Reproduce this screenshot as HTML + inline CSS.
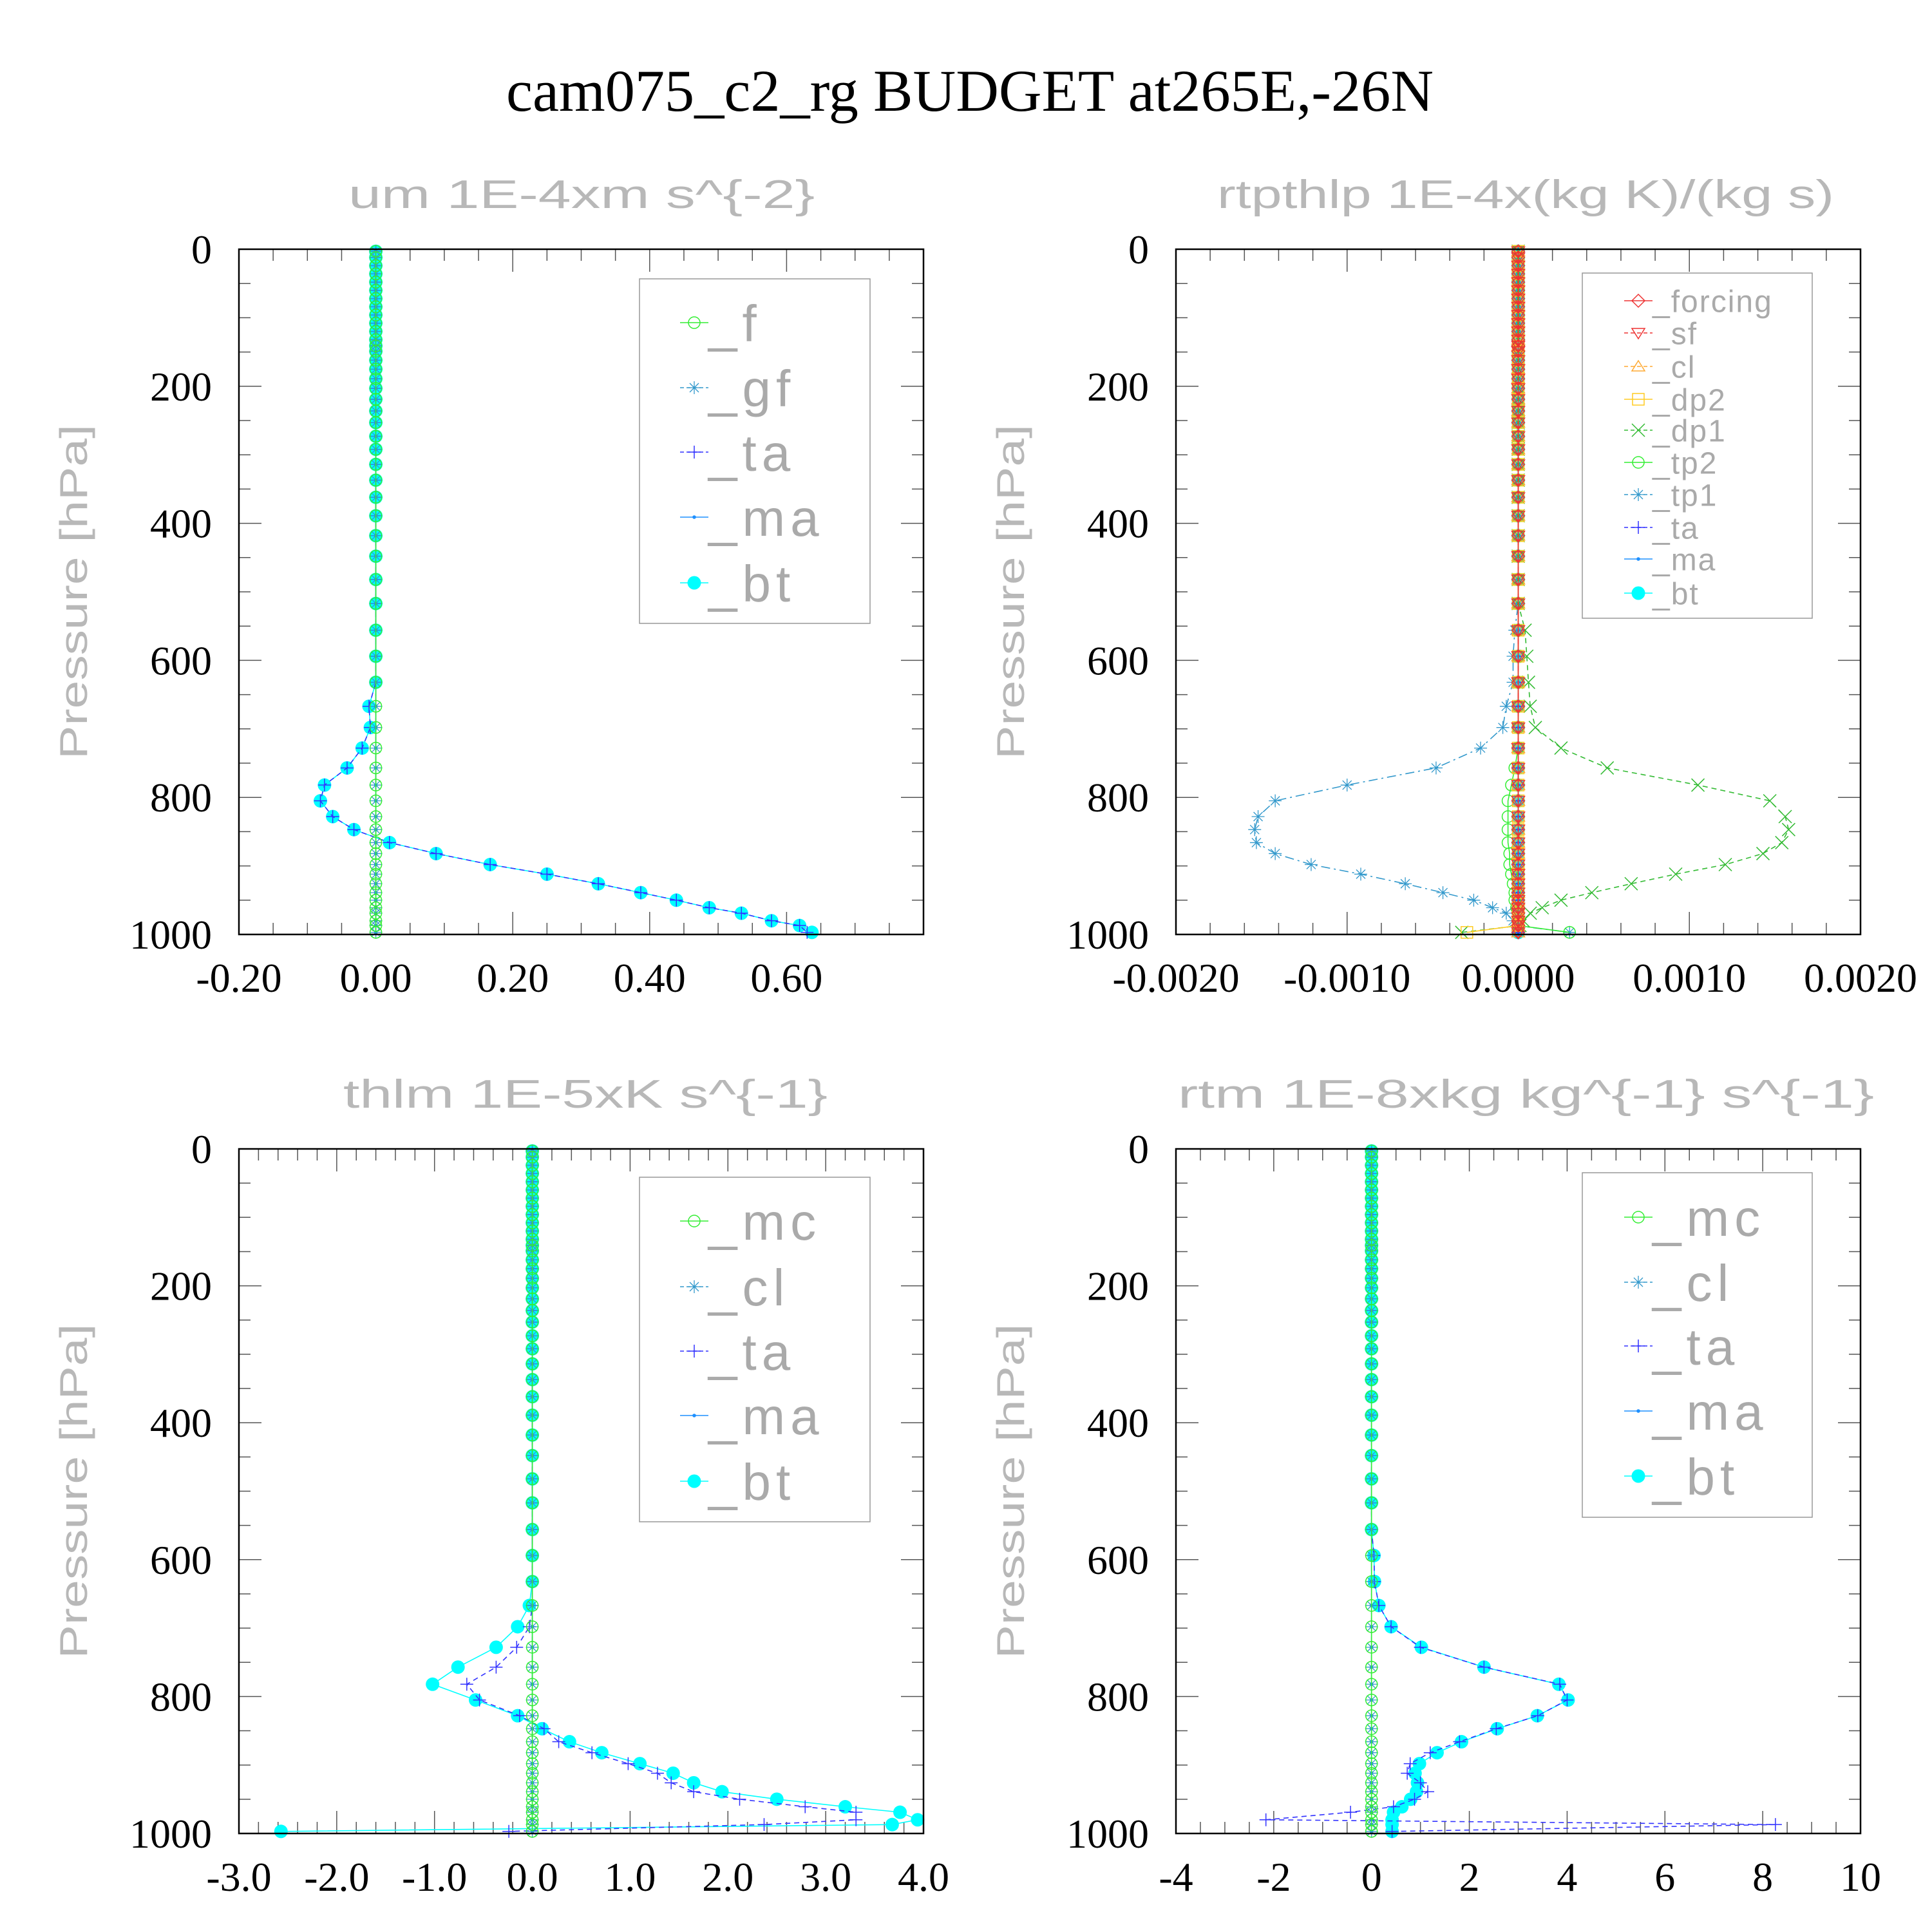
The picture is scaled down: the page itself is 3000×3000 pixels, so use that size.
<!DOCTYPE html>
<html><head><meta charset="utf-8"><title>cam075_c2_rg BUDGET</title>
<style>html,body{margin:0;padding:0;background:#fff;}svg{display:block;}</style></head>
<body>
<svg id="chart" xmlns="http://www.w3.org/2000/svg" width="3000" height="3000" viewBox="0 0 3000 3000">
<rect width="3000" height="3000" fill="#fff"/>
<text x="1506" y="172" text-anchor="middle" font-family="Liberation Serif, serif" font-size="92" fill="#000" textLength="1440" lengthAdjust="spacingAndGlyphs">cam075_c2_rg  BUDGET at265E,-26N</text>
</svg>
<script>
// ---- pressure levels (hPa) ----
const LEV = [3,12,24,36,48,60,72,84,96,108,120,132,141,149,162,175,189,203,219,236,253,273,292,314,337,362,389,418,448,482,517,556,594,632,
 667,698,728,757,782,805,828,847,866,882,898,912,926,939,950,961,969,980,987,997];
const UP0 = [0,0,0,0,0,0,0,0,0,0,0,0,0,0,0,0,0,0,0,0,0,0,0,0,0,0,0,0,0,0,0,0,0,0];
const LOW0 = [0,0,0,0,0,0,0,0,0,0,0,0,0,0,0,0,0,0,0,0];

// ---- um panel ----
const um_bt = [...UP0, -0.01,-0.008,-0.02,-0.042,-0.075,-0.081,-0.063,-0.032,0.02,0.088,0.167,0.25,0.325,0.387,0.439,0.487,0.534,0.578,0.619,0.637];
const um_ta = [...UP0, -0.01,-0.008,-0.02,-0.042,-0.075,-0.081,-0.063,-0.032,0.02,0.088,0.167,0.25,0.325,0.387,0.439,0.487,0.534,0.578,0.619,0.63];
const um_zero = [...UP0, ...LOW0];
const um_ticks = ["-0.20","0.00","0.20","0.40","0.60"];

// ---- rtpthlp panel ----
const rp_tp1 = [...UP0.slice(0,31), -0.00002,-0.00003,-0.00003, -0.00007,-0.00009,-0.00022,-0.00048,-0.001,-0.00142,-0.00152,-0.00154,-0.00153,-0.00142,-0.00121,-0.00092,-0.00066,-0.00044,-0.00026,-0.00015,-0.00007,-0.00003,-0.00001,0.0003];
const rp_dp1 = [...UP0.slice(0,31), 0.00004,0.00005,0.00006, 0.00007,0.0001,0.00025,0.00052,0.00105,0.00147,0.00156,0.00158,0.00154,0.00143,0.00121,0.00092,0.00066,0.00043,0.00025,0.00014,0.00007,0.00003,0.00001,-0.00033];
const rp_tp2 = [...UP0, 0,0,0,-0.00002,-0.00004,-0.00006,-0.00006,-0.00006,-0.00006,-0.00005,-0.00005,-0.00004,-0.00003,-0.00002,-0.00002,-0.00001,0,0,0,0.0003];
const rp_dp2 = [...UP0, 0,0,0,0,0,0,0,0,0,0,0,0,0,0,0,0,0,0,0,-0.0003];
const rp_zero = [...UP0, ...LOW0];
const rp_ticks = ["-0.0020","-0.0010","0.0000","0.0010","0.0020"];

// ---- thlm panel ----
const th_bt = [...UP0, -0.03,-0.15,-0.37,-0.76,-1.02,-0.58,-0.15,0.1,0.38,0.71,1.1,1.44,1.65,1.94,2.5,3.2,3.76,3.94,3.68,-2.57];
const th_ta = [...UP0, 0,-0.03,-0.16,-0.37,-0.67,-0.54,-0.13,0.12,0.27,0.61,0.98,1.28,1.42,1.65,2.12,2.79,3.31,3.31,2.37,-0.24];
const th_zero = [...UP0, ...LOW0];
const th_ticks = ["-3.0","-2.0","-1.0","0.0","1.0","2.0","3.0","4.0"];

// ---- rtm panel ----
const rt_bt = [...UP0.slice(0,32), 0.05,0.06, 0.15,0.4,1.02,2.3,3.83,4.02,3.39,2.57,1.84,1.34,0.98,0.89,0.94,0.92,0.8,0.62,0.45,0.42,0.42,0.42];
const rt_ta = [...UP0.slice(0,32), 0.05,0.06, 0.15,0.4,1.0,2.3,3.85,4.0,3.4,2.55,1.8,1.2,0.79,0.73,1.0,1.15,0.88,0.45,-0.43,-2.16,8.26,0.42];
const rt_zero = [...UP0, ...LOW0];
const rt_ticks = ["-4","-2","0","2","4","6","8","10"];

const yTicks = ["0","200","400","600","800","1000"];

const NS = "http://www.w3.org/2000/svg";
const svg = document.getElementById('chart');
function mk(tag, attrs, name, parent) {
  const el = document.createElementNS(NS, tag);
  for (const k in attrs) el.setAttribute(k, attrs[k]);
  
  
  (parent || svg).appendChild(el);
  return el;
}

function marker(g, type, x, y, color, name) {
  const s = 10;
  if (type === 'circle') mk('circle', {cx:x, cy:y, r:9, fill:'none', stroke:color, 'stroke-width':1.5}, name, g);
  else if (type === 'dotbig') mk('circle', {cx:x, cy:y, r:10.5, fill:color}, name, g);
  else if (type === 'dot') mk('circle', {cx:x, cy:y, r:2.8, fill:color}, name, g);
  else if (type === 'plus') mk('path', {d:`M${x-s} ${y}H${x+s}M${x} ${y-s}V${y+s}`, stroke:color, 'stroke-width':1.5, fill:'none'}, name, g);
  else if (type === 'cross') mk('path', {d:`M${x-s} ${y-s}L${x+s} ${y+s}M${x-s} ${y+s}L${x+s} ${y-s}`, stroke:color, 'stroke-width':1.5, fill:'none'}, name, g);
  else if (type === 'star') mk('path', {d:`M${x-s} ${y}H${x+s}M${x} ${y-s}V${y+s}M${x-7} ${y-7}L${x+7} ${y+7}M${x-7} ${y+7}L${x+7} ${y-7}`, stroke:color, 'stroke-width':1.3, fill:'none'}, name, g);
  else if (type === 'diamond') mk('path', {d:`M${x} ${y-s}L${x+s} ${y}L${x} ${y+s}L${x-s} ${y}Z`, stroke:color, 'stroke-width':1.5, fill:'none'}, name, g);
  else if (type === 'tridown') mk('path', {d:`M${x-s} ${y-7}L${x+s} ${y-7}L${x} ${y+9}Z`, stroke:color, 'stroke-width':1.5, fill:'none'}, name, g);
  else if (type === 'triup') mk('path', {d:`M${x-s} ${y+7}L${x+s} ${y+7}L${x} ${y-9}Z`, stroke:color, 'stroke-width':1.5, fill:'none'}, name, g);
  else if (type === 'square') mk('rect', {x:x-9, y:y-9, width:18, height:18, stroke:color, 'stroke-width':1.5, fill:'none'}, name, g);
}

function panel(cfg) {
  const g = mk('g', {}, cfg.id + '-panel');
  const X = v => cfg.x0 + (v - cfg.xmin) / (cfg.xmax - cfg.xmin) * (cfg.x1 - cfg.x0);
  const Y = p => cfg.y0 + p / 1000 * (cfg.y1 - cfg.y0);
  mk('text', {x:(cfg.tx0+cfg.tx1)/2, y:cfg.y0-64, 'text-anchor':'middle', 'font-family':'Liberation Sans, sans-serif', 'font-size':62, fill:'#b8b8b8', textLength:cfg.tx1-cfg.tx0, lengthAdjust:'spacingAndGlyphs'}, cfg.id + '-title', g).textContent = cfg.title;
  const yc = (cfg.y0 + cfg.y1) / 2, yx = cfg.x0 - 236;
  mk('text', {x:yx, y:yc, transform:`rotate(-90 ${yx} ${yc})`, 'text-anchor':'middle', 'font-family':'Liberation Sans, sans-serif', 'font-size':60, fill:'#b8b8b8', textLength:520, lengthAdjust:'spacingAndGlyphs'}, 'y-axis-title', g).textContent = 'Pressure [hPa]';
  const tg = mk('g', {stroke:'#555', 'stroke-width':1.5}, cfg.id + '-ticks', g);
  for (let v = cfg.xmin, i = 0; v <= cfg.xmax + 1e-9; v = cfg.xmin + (++i) * cfg.minor) {
    const major = Math.abs(Math.round(i * cfg.minor / cfg.major) - i * cfg.minor / cfg.major) < 1e-6;
    const L = major ? 35 : 18, x = X(v);
    mk('line', {x1:x, y1:cfg.y1, x2:x, y2:cfg.y1 - L}, 'x-tick', tg);
    mk('line', {x1:x, y1:cfg.y0, x2:x, y2:cfg.y0 + L}, 'x-tick-top', tg);
  }
  for (let p = 0; p <= 1000; p += 50) {
    const L = p % 200 === 0 ? 35 : 18, y = Y(p);
    mk('line', {x1:cfg.x0, y1:y, x2:cfg.x0 + L, y2:y}, 'y-tick', tg);
    mk('line', {x1:cfg.x1, y1:y, x2:cfg.x1 - L, y2:y}, 'y-tick-right', tg);
  }
  cfg.xlabels.forEach((t, i) => {
    mk('text', {x:X(cfg.xmin + i * cfg.major), y:cfg.y1 + 89, 'text-anchor':'middle', 'font-family':'Liberation Serif, serif', 'font-size':64, fill:'#000'}, 'x-tick-label', g).textContent = t;
  });
  yTicks.forEach((t, i) => {
    mk('text', {x:cfg.x0 - 42, y:Y(i * 200) + 22, 'text-anchor':'end', 'font-family':'Liberation Serif, serif', 'font-size':64, fill:'#000'}, 'y-tick-label', g).textContent = t;
  });
  const sg = mk('g', {}, cfg.id + '-series', g);
  cfg.series.slice().reverse().forEach(s => {
    const pts = s.vals.map((v, i) => X(v).toFixed(1) + ',' + Y(LEV[i]).toFixed(1)).join(' ');
    const a = {points:pts, fill:'none', stroke:s.line, 'stroke-width':1.6};
    if (s.dash) a['stroke-dasharray'] = s.dash;
    mk('polyline', a, 'line-' + s.name, sg);
    s.vals.forEach((v, i) => marker(sg, s.marker, X(v), Y(LEV[i]), s.color, 'point-' + s.name));
  });
  mk('rect', {x:cfg.x0, y:cfg.y0, width:cfg.x1 - cfg.x0, height:cfg.y1 - cfg.y0, fill:'none', stroke:'#000', 'stroke-width':2.5}, cfg.id + '-frame', g);
  const lg = mk('g', {}, 'legend', g);
  const L = cfg.leg;
  mk('rect', {x:L.x0, y:L.y0, width:L.x1 - L.x0, height:L.y1 - L.y0, fill:'#fff', stroke:'#999', 'stroke-width':1.5}, 'legend-box', lg);
  cfg.series.forEach((s, i) => {
    const y = L.ys[i], mx = L.mx;
    const la = {x1:mx - 22, y1:y, x2:mx + 22, y2:y, stroke:s.line, 'stroke-width':1.5};
    if (s.dash) la['stroke-dasharray'] = '6 4';
    mk('line', la, 'legend-line-' + s.name, lg);
    marker(lg, s.marker, mx, y, s.color, 'legend-marker-' + s.name);
    mk('text', {x:mx + 22, y:y + L.fs * 0.36, 'font-family':'Liberation Sans, sans-serif', 'font-size':L.fs, fill:'#aaa', 'letter-spacing':L.ls}, 'legend-entry-' + s.name, lg).textContent = '_' + s.name;
  });
}

const C = {green:'#33ee33', steel:'#3399cc', blue:'#3333ff', dodger:'#1e90ff', cyan:'#00ffff', red:'#ee3333', orange:'#ffaa33', yellow:'#ffcc22', dgreen:'#33bb33'};

panel({id:'um', title:'um   1E-4xm  s^{-2}', tx0:541, tx1:1265, x0:371, x1:1434, y0:387, y1:1451, xmin:-0.2, xmax:0.8, major:0.2, minor:0.05, xlabels:um_ticks,
  leg:{x0:993, x1:1351, y0:433, y1:968, mx:1078, fs:80, ls:8, ys:[501,602,702,803,905]},
  series:[
    {name:'f', vals:um_zero, marker:'circle', color:C.green, line:C.green},
    {name:'gf', vals:um_zero, marker:'star', color:C.steel, line:C.steel, dash:'14 6 3 6'},
    {name:'ta', vals:um_ta, marker:'plus', color:C.blue, line:C.blue, dash:'8 6'},
    {name:'ma', vals:um_zero, marker:'dot', color:C.dodger, line:C.dodger},
    {name:'bt', vals:um_bt, marker:'dotbig', color:C.cyan, line:C.cyan}]});

panel({id:'rtpthlp', title:'rtpthlp   1E-4x(kg K)/(kg s)', tx0:1890, tx1:2848, x0:1826, x1:2889, y0:387, y1:1451, xmin:-0.002, xmax:0.002, major:0.001, minor:0.0002, xlabels:rp_ticks,
  leg:{x0:2457, x1:2814, y0:424, y1:960, mx:2544, fs:48, ls:2, ys:[467,517,569,620,668,718,768,819,868,921]},
  series:[
    {name:'forcing', vals:rp_zero, marker:'diamond', color:C.red, line:C.red},
    {name:'sf', vals:rp_zero, marker:'tridown', color:C.red, line:C.red, dash:'8 6'},
    {name:'cl', vals:rp_zero, marker:'triup', color:C.orange, line:C.orange, dash:'14 6 3 6'},
    {name:'dp2', vals:rp_dp2, marker:'square', color:C.yellow, line:C.yellow},
    {name:'dp1', vals:rp_dp1, marker:'cross', color:C.dgreen, line:C.dgreen, dash:'8 6'},
    {name:'tp2', vals:rp_tp2, marker:'circle', color:C.green, line:C.green},
    {name:'tp1', vals:rp_tp1, marker:'star', color:C.steel, line:C.steel, dash:'14 6 3 6'},
    {name:'ta', vals:rp_zero, marker:'plus', color:C.blue, line:C.blue, dash:'8 6'},
    {name:'ma', vals:rp_zero, marker:'dot', color:C.dodger, line:C.dodger},
    {name:'bt', vals:rp_zero, marker:'dotbig', color:C.cyan, line:C.cyan}]});

panel({id:'thlm', title:'thlm   1E-5xK  s^{-1}', tx0:533, tx1:1285, x0:371, x1:1434, y0:1784, y1:2847, xmin:-3, xmax:4, major:1, minor:0.2, xlabels:th_ticks,
  leg:{x0:993, x1:1351, y0:1828, y1:2363, mx:1078, fs:80, ls:8, ys:[1896,1998,2098,2198,2300]},
  series:[
    {name:'mc', vals:th_zero, marker:'circle', color:C.green, line:C.green},
    {name:'cl', vals:th_zero, marker:'star', color:C.steel, line:C.steel, dash:'14 6 3 6'},
    {name:'ta', vals:th_ta, marker:'plus', color:C.blue, line:C.blue, dash:'8 6'},
    {name:'ma', vals:th_zero, marker:'dot', color:C.dodger, line:C.dodger},
    {name:'bt', vals:th_bt, marker:'dotbig', color:C.cyan, line:C.cyan}]});

panel({id:'rtm', title:'rtm   1E-8xkg  kg^{-1}  s^{-1}', tx0:1829, tx1:2910, x0:1826, x1:2889, y0:1784, y1:2847, xmin:-4, xmax:10, major:2, minor:0.5, xlabels:rt_ticks,
  leg:{x0:2457, x1:2814, y0:1821, y1:2356, mx:2544, fs:80, ls:8, ys:[1890,1991,2090,2191,2292]},
  series:[
    {name:'mc', vals:rt_zero, marker:'circle', color:C.green, line:C.green},
    {name:'cl', vals:rt_zero, marker:'star', color:C.steel, line:C.steel, dash:'14 6 3 6'},
    {name:'ta', vals:rt_ta, marker:'plus', color:C.blue, line:C.blue, dash:'8 6'},
    {name:'ma', vals:rt_zero, marker:'dot', color:C.dodger, line:C.dodger},
    {name:'bt', vals:rt_bt, marker:'dotbig', color:C.cyan, line:C.cyan}]});
</script>
</body></html>
